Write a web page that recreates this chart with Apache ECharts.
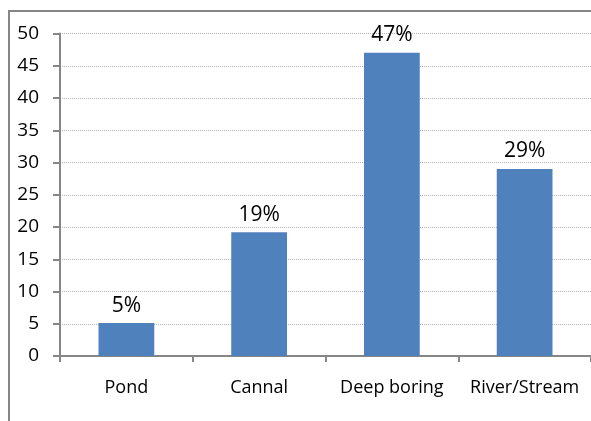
<!DOCTYPE html>
<html>
<head>
<meta charset="utf-8">
<script src="https://cdn.jsdelivr.net/npm/echarts@6/dist/echarts.min.js"></script>
<style>
  html, body { margin: 0; padding: 0; background: #fff; }
  #chart { width: 591px; height: 421px; }
</style>
</head>
<body>
<div id="chart"></div>
<script>
// data
const categories = ["Pond", "Cannal", "Deep boring", "River/Stream"];
const values = [5.1, 19.2, 47, 29];
const pctLabels = ["5%", "19%", "47%", "29%"];
const yTicks = { min: 0, max: 50, interval: 5 };

const font = "'Open Sans', sans-serif";
const myChart = echarts.init(document.getElementById("chart"));

const option = {
  animation: false,
  graphic: [
    {
      type: "rect",
      shape: { x: 9, y: 11, width: 620, height: 440 },
      style: { fill: "none", stroke: "#868686", lineWidth: 2 },
      z: -1,
    },
  ],
  grid: { left: 60, top: 33.5, bottom: 65, width: 537 },
  xAxis: {
    type: "category",
    data: categories,
    axisLine: { lineStyle: { color: "#868686", width: 2 } },
    axisTick: { show: true, interval: 0, length: 6, lineStyle: { color: "#868686", width: 2 } },
    axisLabel: { color: "#000", fontFamily: font, fontSize: 18, margin: 23, interval: 0 },
  },
  yAxis: {
    type: "value",
    min: yTicks.min,
    max: yTicks.max,
    interval: yTicks.interval,
    axisLine: { show: true, lineStyle: { color: "#868686", width: 2 } },
    axisTick: { show: true, length: 7, lineStyle: { color: "#868686", width: 2 } },
    axisLabel: { color: "#000", fontFamily: font, fontSize: 19, margin: 21 },
    splitLine: { lineStyle: { color: "#b4b4b4", type: "dotted", width: 1 } },
  },
  series: [
    {
      type: "bar",
      data: values,
      barWidth: "42%",
      itemStyle: { color: "#4f81bd" },
      label: {
        show: true,
        position: "top",
        distance: 7,
        color: "#000",
        fontFamily: font,
        fontSize: 21,
        formatter: (p) => pctLabels[p.dataIndex],
      },
    },
  ],
};

myChart.setOption(option);
</script>
</body>
</html>
